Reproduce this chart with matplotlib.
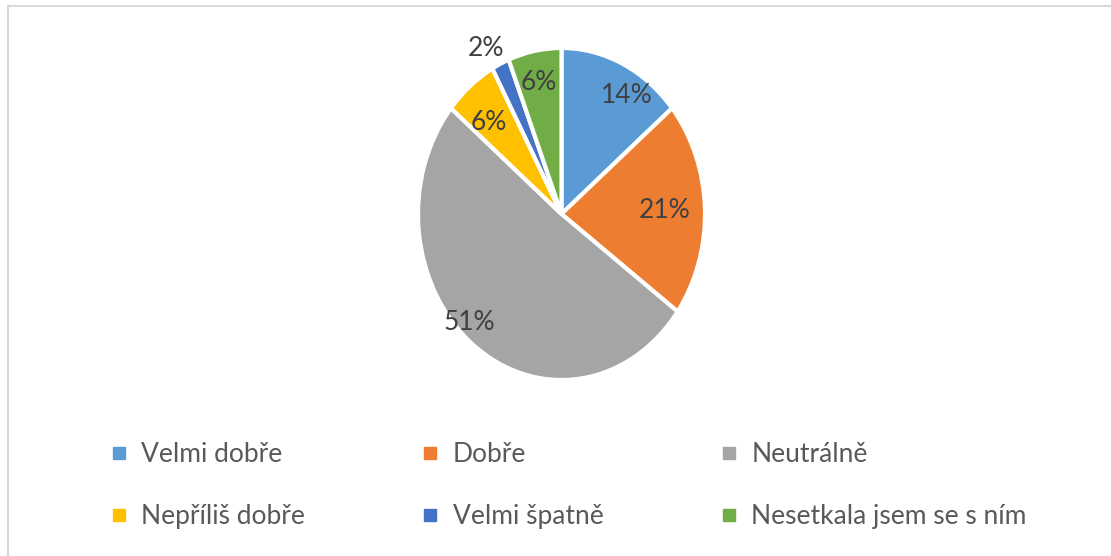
import numpy as np
import matplotlib
matplotlib.use("Agg")
import matplotlib.pyplot as plt
from matplotlib.lines import Line2D
from matplotlib.patches import Rectangle

categories = ["Velmi dobře", "Dobře", "Neutrálně", "Nepříliš dobře",
              "Velmi špatně", "Nesetkala jsem se s ním"]
shares = [14, 21, 51, 6, 2, 6]
labels = ["14%", "21%", "51%", "6%", "2%", "6%"]
colors = ["#5B9BD5", "#ED7D31", "#A5A5A5", "#FFC000", "#4472C4", "#70AD47"]
# label placement: radius (fraction of pie) and angular nudge (degrees)
label_radius = [0.85, 0.72, 0.915, 0.75, 1.13, 0.81]
label_nudge = [-7.4, 0, -6.8, 3, 2.7, 0.6]

plt.rcParams["font.family"] = ["Lato", "DejaVu Sans"]

fig = plt.figure(figsize=(11.11, 5.56), dpi=100)
ax = fig.add_axes([418 / 1111, 1 - 380 / 556, 287 / 1111, 332 / 556])

wedges, _ = ax.pie(shares, colors=colors, startangle=90, counterclock=False,
                   wedgeprops=dict(edgecolor="white", linewidth=3))
ax.set_aspect("auto")
ax.set_xlim(-1, 1)
ax.set_ylim(-1, 1)

for w, txt, r, d in zip(wedges, labels, label_radius, label_nudge):
    ang = np.deg2rad((w.theta1 + w.theta2) / 2 + d)
    ax.text(r * np.cos(ang), r * np.sin(ang), txt, ha="center", va="center",
            fontsize=19, color="#404040")

# legend, row-wise order for 3 columns
order = [0, 3, 1, 4, 2, 5]
handles = [Line2D([], [], marker="s", linestyle="", markersize=8,
                  markerfacecolor=colors[i], markeredgecolor=colors[i])
           for i in order]
fig.legend(handles, [categories[i] for i in order], ncol=3,
           loc="lower left", bbox_to_anchor=(87 / 1111, 3 / 556),
           frameon=False, fontsize=19, labelcolor="#595959",
           handlelength=0.6, handletextpad=0.55, columnspacing=4.45,
           labelspacing=1.4)

# chart border
fig.patches.append(Rectangle((8 / 1111, -0.1), 1.2, 1.1 - 6 / 556,
                             transform=fig.transFigure, fill=False,
                             edgecolor="#D9D9D9", linewidth=1.5))

fig.savefig("out.png", dpi=100, facecolor="white")
